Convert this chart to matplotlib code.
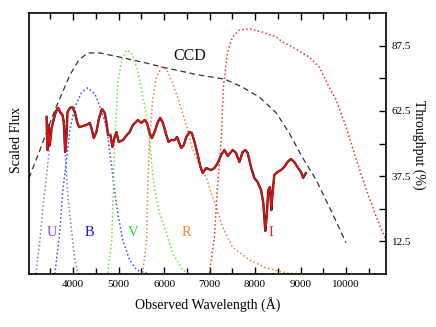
import matplotlib
matplotlib.use("Agg")
import matplotlib.pyplot as plt
from matplotlib.ticker import MultipleLocator, FixedLocator

plt.rcParams['font.family'] = ['Liberation Serif', 'DejaVu Serif']
plt.rcParams['mathtext.fontset'] = 'stix'

# ---------------- data ----------------
ccd_wl = [3029, 3270, 3599, 3928, 4125, 4322, 4586, 5024, 5616, 6055, 6779, 7327,
          7722, 8095, 8468, 8753, 9038, 9345, 9696, 10000]
ccd_tp = [36.8, 47.5, 62.8, 76.2, 82.0, 84.7, 84.7, 83.1, 80.8, 78.9, 76.2, 74.7,
          71.6, 67.8, 61.7, 54.0, 44.8, 36.0, 23.4, 12.0]

u_wl = [3182, 3270, 3336, 3423, 3489, 3555, 3665, 3708, 3752, 3796, 3884, 3971, 4037, 4103]
u_tp = [0.0, 13.0, 25.7, 38.7, 50.2, 59.0, 62.8, 63.0, 62.0, 55.0, 29.5, 15.7, 5.4, 0.4]

b_wl = [3599, 3708, 3774, 3862, 3928, 4037, 4191, 4322, 4476, 4586, 4740, 4849,
        4958, 5090, 5243, 5397, 5616]
b_tp = [0.0, 16.5, 32.0, 44.8, 55.2, 64.0, 69.7, 71.3, 69.0, 64.4, 56.0, 41.0,
        25.7, 13.0, 5.4, 1.5, 0.4]

v_wl = [4761, 4849, 4871, 4915, 4958, 4980, 5068, 5178, 5287, 5397, 5507, 5616,
        5682, 5726, 5792, 5902, 6055, 6186, 6406, 6560]
v_tp = [0.4, 13.0, 25.7, 51.3, 64.0, 73.2, 82.0, 85.8, 84.7, 79.3, 70.5, 60.2,
        51.3, 42.5, 32.2, 23.4, 15.7, 8.0, 1.5, 0.4]

r_wl = [5529, 5616, 5638, 5682, 5748, 5836, 5945, 6055, 6186, 6340, 6494, 6625,
        6779, 6933, 7064, 7152, 7284, 7503, 7876, 8248, 8687, 9038]
r_tp = [0.4, 13.0, 32.0, 51.3, 66.7, 75.5, 79.3, 78.2, 73.2, 65.5, 56.7, 47.9,
        41.8, 36.8, 29.5, 25.7, 18.0, 10.3, 5.4, 2.3, 0.4, 0.0]

i_wl = [6998, 7107, 7174, 7261, 7305, 7393, 7503, 7656, 7876, 8161, 8468, 8600,
        8819, 9192, 9411, 9630, 9784, 10003, 10222, 10441, 10660, 10880]
i_tp = [0.4, 14.2, 33.3, 52.5, 71.6, 84.7, 90.8, 93.5, 93.9, 92.7, 90.8, 88.9,
        87.0, 83.1, 79.3, 71.6, 66.7, 56.3, 44.1, 32.6, 22.2, 13.0]

spec_wl = [3417, 3434, 3452, 3489, 3526, 3599, 3636, 3671, 3724, 3768, 3796, 3825,
           3855, 3877, 3928, 3978, 4037, 4088, 4132, 4219, 4294, 4366, 4404, 4454,
           4513, 4570, 4636, 4695, 4732, 4768, 4820, 4864, 4914, 4952, 5002, 5097,
           5184, 5243, 5316, 5425, 5500, 5572, 5623, 5682, 5732, 5792, 5864, 5917,
           5974, 6048, 6099, 6158, 6230, 6289, 6325, 6377, 6434, 6487, 6559, 6610,
           6669, 6741, 6800, 6851, 6925, 7035, 7107, 7180, 7254, 7327, 7399, 7509,
           7583, 7656, 7728, 7787, 7838, 7912, 7985, 8057, 8132, 8182, 8226, 8254,
           8292, 8329, 8358, 8386, 8423, 8496, 8570, 8643, 8715, 8790, 8862, 8934,
           9009, 9059, 9118]
spec_fx = [60.2, 47.5, 57.1, 49.4, 55.9, 60.9, 62.8, 63.6, 61.7, 60.9, 58.2, 46.7,
           53.3, 62.1, 63.6, 64.0, 62.1, 58.2, 56.3, 56.7, 57.1, 57.9, 55.9, 52.1,
           54.4, 59.8, 63.2, 61.7, 58.2, 53.3, 53.3, 48.7, 52.5, 54.4, 50.6, 51.3,
           53.3, 54.4, 57.1, 59.0, 57.9, 59.0, 57.9, 54.0, 52.1, 54.4, 58.2, 59.8,
           57.9, 53.3, 50.6, 51.3, 51.3, 52.5, 50.6, 48.3, 49.4, 52.5, 54.4, 54.0,
           50.6, 45.6, 41.0, 38.7, 40.6, 39.8, 40.6, 42.5, 45.6, 47.5, 45.2, 47.5,
           46.4, 42.9, 46.7, 47.5, 46.4, 41.0, 36.8, 35.2, 32.2, 27.2, 16.5, 21.8,
           32.2, 33.3, 24.5, 31.0, 37.9, 39.1, 39.8, 41.0, 42.9, 44.1, 42.9, 41.0,
           39.1, 36.8, 38.7]

filter_names = ['U', 'B', 'V', 'R', 'I']
filter_label_wl = [3533, 4366, 5309, 6494, 8358]
filter_label_y = 16.0
filter_text_colors = ['#b040d0', '#1a1ae6', '#22dd22', '#ff8030', '#ee2222']
filter_line_colors = ['#7a78f0', '#3a48ff', '#66ee22', '#ff7a2a', '#ff2a2a']

x_ticks = [4000, 5000, 6000, 7000, 8000, 9000, 10000]
y_ticks = [12.5, 37.5, 62.5, 87.5]

# ---------------- plot ----------------
fig = plt.figure(figsize=(4.36, 3.27), dpi=100)
ax = fig.add_axes([29/436, 1-274/327, (386-29)/436, (274-13)/327])

ax.plot(ccd_wl, ccd_tp, color='#333333', lw=0.9, ls=(0, (4.5, 3.0)))

for wl, tp, c in zip([u_wl, b_wl, v_wl, r_wl, i_wl],
                     [u_tp, b_tp, v_tp, r_tp, i_tp], filter_line_colors):
    ax.plot(wl, tp, color=c, lw=1.1, ls=(0, (1, 1.6)))

ax.plot(spec_wl, spec_fx, color='#222222', lw=1.7, solid_joinstyle='round')
ax.plot(spec_wl, spec_fx, color='#e01010', lw=1.2, solid_joinstyle='round')

for name, wl, c in zip(filter_names, filter_label_wl, filter_text_colors):
    ax.text(wl, filter_label_y, name, color=c, fontsize=10.5, ha='center', va='center')

ax.text(6560, 83.5, 'CCD', fontsize=11.5, ha='center', va='center', color='#111111')

ax.set_xlim(3030, 10880)
ax.set_ylim(0, 100)

ax.xaxis.set_major_locator(FixedLocator(x_ticks))
ax.xaxis.set_minor_locator(MultipleLocator(500))
ax.tick_params(axis='x', which='both', direction='in', top=True, bottom=True,
               labelsize=8, pad=4, width=1.0)
ax.tick_params(axis='x', which='major', length=5)
ax.tick_params(axis='x', which='minor', length=4)

ax.yaxis.set_major_locator(FixedLocator(y_ticks))
ax.yaxis.set_minor_locator(FixedLocator([25, 50, 75]))
ax.yaxis.tick_right()
ax.tick_params(axis='y', which='both', direction='in', left=False, right=True,
               labelleft=False, labelright=True, labelsize=8, pad=4, width=1.0, length=5)
ax.set_yticklabels([str(t) for t in y_ticks])

for s in ax.spines.values():
    s.set_linewidth(1.2)

ax.set_xlabel('Observed Wavelength (Å)', fontsize=10, labelpad=6)
fig.text(17/436, 1-140/327, 'Scaled Flux', rotation=90, fontsize=10,
         ha='center', va='center')
fig.text(419/436, 1-145/327, 'Throughput (%)', rotation=-90, fontsize=10,
         ha='center', va='center')

fig.savefig('out.png', dpi=100)
